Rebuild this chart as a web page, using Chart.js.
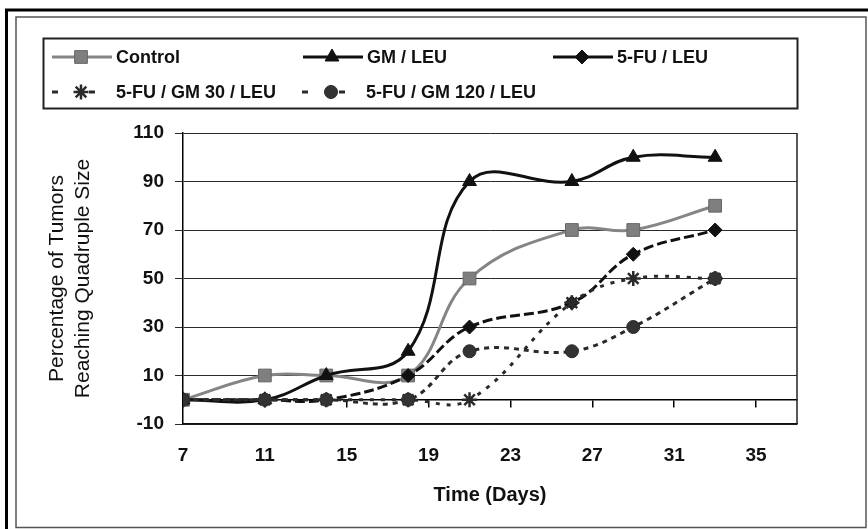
<!DOCTYPE html>
<html>
<head>
<meta charset="utf-8">
<script src="https://cdn.jsdelivr.net/npm/chart.js@4/dist/chart.umd.min.js"></script>
<style>
  html, body { margin: 0; padding: 0; background: #fff; }
  #wrap { width: 868px; height: 529px; position: relative; }
</style>
</head>
<body>
<div id="wrap"><canvas id="c" width="868" height="529"></canvas></div>
<script>
// Days after start and percentage of tumors that reached quadruple size
const days = [7, 11, 14, 18, 21, 26, 29, 33];
const control = [0, 10, 10, 10, 50, 70, 70, 80];
const gmLeu = [0, 0, 10, 20, 90, 90, 100, 100];
const fuLeu = [0, 0, 0, 10, 30, 40, 60, 70];
const fuGm30Leu = [0, 0, 0, 0, 0, 40, 50, 50];
const fuGm120Leu = [0, 0, 0, 0, 20, 20, 30, 50];

const seriesNames = ['Control', 'GM / LEU', '5-FU / LEU', '5-FU / GM 30 / LEU', '5-FU / GM 120 / LEU'];
const xTicks = [7, 11, 15, 19, 23, 27, 31, 35];
const yTicks = [-10, 10, 30, 50, 70, 90, 110];

const FONT = "'Liberation Sans', Arial, Helvetica, sans-serif";
const toPoints = vals => days.map((d, i) => ({ x: d, y: vals[i] }));

const styles = [
  { color: '#858585', fill: '#7f7f7f', edge: '#666', pointStyle: 'rect', radius: 9, dash: [], dashed: false },
  { color: '#111', fill: '#111', edge: '#111', pointStyle: 'triangle', radius: 8, dash: [], dashed: false },
  { color: '#111', fill: '#111', edge: '#111', pointStyle: 'rectRot', radius: 7, dash: [10, 4], dashed: false },
  { color: '#2a2a2a', fill: '#2a2a2a', edge: '#2a2a2a', pointStyle: 'star', radius: 7.5, dash: [4, 7], dashed: true },
  { color: '#2a2a2a', fill: '#333', edge: '#2a2a2a', pointStyle: 'circle', radius: 6.5, dash: [5, 5], dashed: true }
];
const seriesValues = [control, gmLeu, fuLeu, fuGm30Leu, fuGm120Leu];

const datasets = seriesValues.map((vals, i) => ({
  label: seriesNames[i],
  data: toPoints(vals),
  borderColor: styles[i].color,
  backgroundColor: styles[i].fill,
  borderWidth: 3,
  borderDash: styles[i].dash,
  tension: 0.4,
  pointStyle: styles[i].pointStyle,
  pointRadius: styles[i].radius,
  pointBackgroundColor: styles[i].fill,
  pointBorderColor: styles[i].edge,
  pointBorderWidth: styles[i].pointStyle === 'star' ? 2.5 : 1,
  order: 5 - i,
  fill: false
}));

// Page frames and the right edge of the plot box
const framePlugin = {
  id: 'frames',
  beforeDraw(chart) {
    const ctx = chart.ctx;
    ctx.save();
    ctx.fillStyle = '#fff';
    ctx.fillRect(0, 0, chart.width, chart.height);
    ctx.strokeStyle = '#000';
    ctx.lineWidth = 3;
    ctx.beginPath();
    ctx.moveTo(6.5, chart.height);
    ctx.lineTo(6.5, 10);
    ctx.lineTo(chart.width, 10);
    ctx.stroke();
    ctx.strokeStyle = '#555';
    ctx.lineWidth = 1.5;
    ctx.strokeRect(16, 17, 850, 510.5);
    ctx.restore();
  },
  beforeDatasetsDraw(chart) {
    const { ctx, chartArea } = chart;
    ctx.save();
    ctx.strokeStyle = '#222';
    ctx.lineWidth = 1.5;
    ctx.beginPath();
    ctx.moveTo(chartArea.right, chartArea.top);
    ctx.lineTo(chartArea.right, chartArea.bottom);
    ctx.stroke();
    ctx.restore();
  }
};

// Boxed legend with line samples and markers
const legendPlugin = {
  id: 'boxLegend',
  afterDraw(chart) {
    const ctx = chart.ctx;
    const slots = [
      { x0: 52, y: 57 }, { x0: 303, y: 57 }, { x0: 553, y: 57 },
      { x0: 52, y: 92 }, { x0: 302, y: 92 }
    ];
    ctx.save();
    ctx.strokeStyle = '#222';
    ctx.lineWidth = 2;
    ctx.strokeRect(43.5, 38.5, 754, 70);
    chart.data.datasets.forEach((ds, i) => {
      const s = styles[i];
      const { x0, y } = slots[i];
      const mx = x0 + 29;
      ctx.strokeStyle = s.color;
      ctx.lineWidth = 3;
      ctx.setLineDash([]);
      ctx.beginPath();
      if (s.dashed) {
        ctx.moveTo(x0, y); ctx.lineTo(x0 + 6, y);
        ctx.moveTo(mx + 8, y); ctx.lineTo(mx + 14, y);
      } else {
        ctx.moveTo(x0, y); ctx.lineTo(x0 + 60, y);
      }
      ctx.stroke();
      ctx.fillStyle = s.fill;
      ctx.strokeStyle = s.edge;
      ctx.lineWidth = s.pointStyle === 'star' ? 2.5 : 1;
      Chart.helpers.drawPoint(ctx, {
        pointStyle: s.pointStyle,
        radius: s.radius,
        rotation: 0,
        borderWidth: ctx.lineWidth
      }, mx, y);
      ctx.fillStyle = '#111';
      ctx.font = 'bold 18px ' + FONT;
      ctx.textBaseline = 'middle';
      ctx.textAlign = 'left';
      ctx.fillText(ds.label, x0 + 64, y + 1);
    });
    ctx.restore();
  }
};

const setTicks = list => scale => { scale.ticks = list.map(v => ({ value: v })); };

new Chart(document.getElementById('c'), {
  type: 'line',
  data: { datasets },
  plugins: [framePlugin, legendPlugin],
  options: {
    responsive: false,
    animation: false,
    devicePixelRatio: 1,
    layout: { padding: { left: 40, right: 71, top: 133, bottom: 18 } },
    plugins: { legend: { display: false }, tooltip: { enabled: false } },
    scales: {
      x: {
        type: 'linear',
        position: 'bottom',
        min: 7,
        max: 37,
        afterBuildTicks: setTicks(xTicks),
        grid: { display: false, drawTicks: false },
        border: { display: true, color: '#111', width: 1.5 },
        ticks: { font: { family: FONT, size: 19, weight: 'bold' }, color: '#111', padding: 20, maxRotation: 0, autoSkip: false },
        title: { display: true, text: 'Time (Days)', color: '#111', font: { family: FONT, size: 20, weight: 'bold' }, padding: { top: 4, bottom: 4 } },
        afterFit: scale => { scale.height = 87; }
      },
      x2: {
        type: 'linear',
        axis: 'x',
        position: { y: 0 },
        min: 7,
        max: 37,
        afterBuildTicks: setTicks(xTicks),
        grid: { display: true, drawOnChartArea: false, drawTicks: true, tickLength: 7, color: '#000', lineWidth: 1.5 },
        border: { display: true, color: '#000', width: 1.5 },
        ticks: { display: false }
      },
      y: {
        type: 'linear',
        position: 'left',
        min: -10,
        max: 110,
        afterBuildTicks: setTicks(yTicks),
        grid: { color: '#2a2a2a', lineWidth: 1, drawTicks: true, tickLength: 8 },
        border: { display: true, color: '#000', width: 1.5 },
        ticks: { font: { family: FONT, size: 19, weight: 'bold' }, color: '#111', padding: 11 },
        title: {
          display: true,
          text: ['Percentage of Tumors', 'Reaching Quadruple Size'],
          color: '#111',
          font: { family: FONT, size: 21, weight: 'normal', lineHeight: 1.2 },
          padding: { top: 5, bottom: 4 }
        },
        afterFit: scale => { scale.width = 143; }
      }
    }
  }
});
</script>
</body>
</html>
